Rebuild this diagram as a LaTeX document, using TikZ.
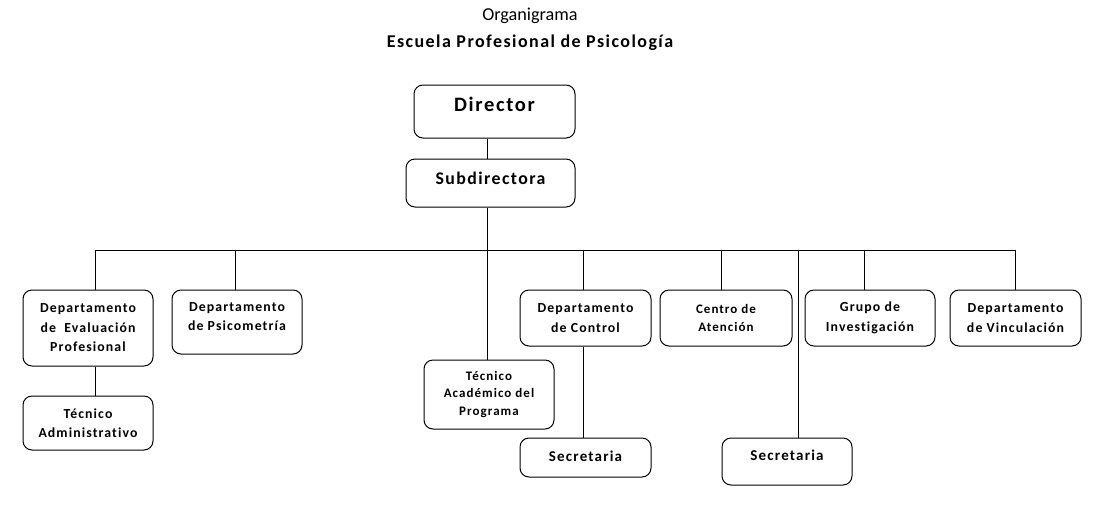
\documentclass[tikz,border=0pt]{standalone}
\usepackage{fontspec}
\setmainfont{Carlito}
\newfontfamily\boxfont{Carlito}[LetterSpace=8, Ligatures=NoCommon]
\usetikzlibrary{positioning, calc}
\tikzset{
    unit/.style={
        draw=black,
        line width=1pt,
        rounded corners=9pt,
        inner sep=0pt,
        align=center,
        font=\boxfont\bfseries\fontsize{13.8}{19.5}\selectfont,
    },
    small/.style={
        font=\boxfont\bfseries\fontsize{13}{17.5}\selectfont,
    },
    link/.style={
        draw=black,
        line width=1pt,
    },
}
\begin{document}
\begin{tikzpicture}[x=1pt, y=-1pt]
      \useasboundingbox (0,0) rectangle (1100,512);
      \node [font=\fontsize{18.2}{20}\selectfont] (Title) at (530,16) {Organigrama};
      \node [font=\boxfont\bfseries\fontsize{18}{20}\selectfont] (School) at (530,43) {Escuela Profesional de Psicología};

      \node [unit, minimum width=161, minimum height=53, text height=13, text depth=13,
             font=\boxfont\bfseries\fontsize{20.5}{24}\selectfont] (Director) at (494.5,111.5) {Director};
      \node [unit, minimum width=169, minimum height=48, text height=11.5, text depth=8,
             font=\boxfont\bfseries\fontsize{17.8}{20}\selectfont] (Subdir) at (490.5,183) {Subdirectora};

      \node [unit, minimum width=130, minimum height=76] (DepEval) at (88,328) {Departamento\\de \ Evaluación\\Profesional};
      \node [unit, minimum width=130, minimum height=54] (TecAdm) at (88,423) {Técnico\\Administrativo};
      \node [unit, minimum width=130, minimum height=64, text depth=11] (DepPsi) at (237,322) {Departamento\\de Psicometría};
      \node [unit, small, minimum width=130, minimum height=69] (TecAcad) at (489,394.5) {Técnico\\Académico del\\Programa};
      \node [unit, minimum width=131, minimum height=56] (DepCtrl) at (585.5,318) {Departamento\\de Control};
      \node [unit, minimum width=131, minimum height=39, text height=10, text depth=2,
             font=\boxfont\bfseries\fontsize{15}{17}\selectfont] (SecCtrl) at (585.5,457.5) {Secretaria};
      \node [unit, small, minimum width=132, minimum height=56] (Centro) at (726,318) {Centro de\\Atención};
      \node [unit, minimum width=130, minimum height=47, text height=10, text depth=12,
             font=\boxfont\bfseries\fontsize{15}{17}\selectfont] (SecCentro) at (787,461.5) {Secretaria};
      \node [unit, minimum width=130, minimum height=56] (Grupo) at (870,318) {Grupo de\\Investigación};
      \node [unit, minimum width=131, minimum height=56] (DepVinc) at (1015.5,318) {Departamento\\de Vinculación};

      % bus
      \coordinate (Bus) at (487,250);
      \coordinate (BusL) at (95,250);
      \coordinate (BusR) at (1015,250);
      \coordinate (TSec) at (798,250);
      \path [link] (BusL) -- (BusR);
      \path [link] (Director.south -| Bus) -- (Subdir.north -| Bus);
      \path [link] (Subdir.south -| Bus) -- (TecAcad.north -| Bus);
      \foreach \dep/\x in {DepEval/95, DepPsi/235, DepCtrl/583, Centro/721, Grupo/864, DepVinc/1015}
      {
          \coordinate (T\dep) at (\x,250);
          \path [link] (T\dep) -- (T\dep |- \dep.north);
      }
      \path [link] (DepEval.south -| TDepEval) -- (TecAdm.north -| TDepEval);
      \path [link] (DepCtrl.south -| TDepCtrl) -- (SecCtrl.north -| TDepCtrl);
      \path [link] (TSec) -- (TSec |- SecCentro.north);
\end{tikzpicture}
\end{document}
